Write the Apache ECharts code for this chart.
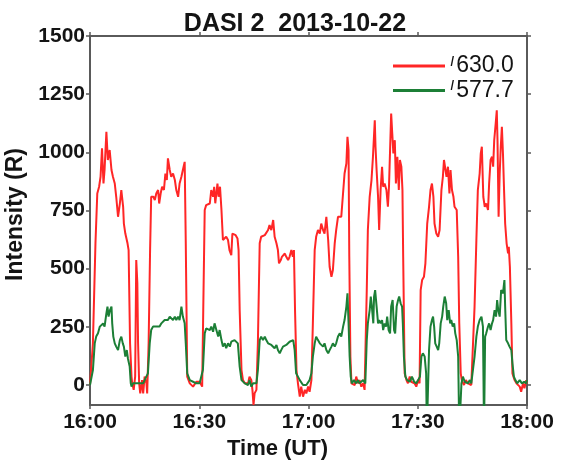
<!DOCTYPE html>
<html>
<head>
<meta charset="utf-8">
<title>DASI 2 2013-10-22</title>
<script src="https://cdn.jsdelivr.net/npm/echarts@6/dist/echarts.min.js"></script>
<style>
  html, body { margin: 0; padding: 0; background: #ffffff; }
  #chart { width: 565px; height: 461px; }
</style>
</head>
<body>
<div id="chart"></div>
<script>
// Axis tick labels
const timeLabels = ['16:00', '16:30', '17:00', '17:30', '18:00'];
const intensityTicks = [0, 250, 500, 750, 1000, 1250, 1500];

// Emission line names (shown as subscripts of I in the legend)
const lineNames = ['630.0', '577.7'];

// I(630.0) in Rayleigh, [minutes after 16:00 UT, intensity]
const red630Early = [
  [0,0],[0.4,7],[0.8,179],[1.5,609],[2.0,823],[2.5,852],[2.9,895],[3.3,1017],[3.7,866],[4.0,924],
  [4.5,1088],[4.9,967],[5.4,1010],[5.9,924],[6.3,895],[6.8,866],[7.2,809],[7.7,723],[8.2,780],[8.6,838],
  [9.1,766],[9.3,694],[9.7,651],[10.3,609],[10.6,580],[11.0,179],[11.4,36],[11.6,7],[12.0,-21],[12.4,36],
  [12.7,537],[13.0,437],[13.2,179],[13.5,7],[13.8,-36],[14.3,21],[14.6,-36],[15.0,36],[15.5,7],[15.7,-36],
  [16.1,179],[16.5,580],[16.8,809],[17.4,809],[17.8,795],[18.2,823],[18.7,838],[19.0,780],[19.4,823],[19.8,852],
  [20.3,838],[20.7,909],[21.1,881],[21.4,974],[21.9,924],[22.3,895],[22.8,909],[23.3,881],[23.7,838],[24.2,809],
  [24.6,866],[25.1,895],[25.5,924],[26.0,959],[26.3,609],[26.7,36],[27.4,7],[28.3,-7],[29.2,14],
  [30.1,14],[30.8,-7],[31.1,322],[31.5,752],[31.9,773],[32.4,766],[32.9,780],[33.3,838],[33.8,809],[34.1,852],
  [34.4,781],[35.0,866],[35.3,809],[35.7,852],[36.1,752],[36.5,623],[37.0,616],[37.4,637],[37.9,623],[38.3,580],
  [38.8,558],[39.1,651],[39.5,659],[40.0,644],[40.5,630],[40.8,580],[41.1,322],[41.6,64],[42.0,21],[42.5,7],
  [42.9,14],[43.4,7],[43.8,36],[44.3,21],[44.6,-21],[44.9,-86],[45.2,-36],[45.7,-21],[46.1,179],[46.6,609],
  [47.0,637],[47.5,630],[48.0,644],[48.4,637],[48.9,666],[49.3,687],[49.8,666],[50.3,709],[50.7,637],[51.2,609],
  [51.6,580],[51.9,523],[52.4,537],[52.7,551],[53.1,544],[53.5,565],[53.9,551],[54.4,537],[54.8,551],[55.3,580],
  [55.7,551],[56.0,580],[56.3,322],[56.7,64],[57.1,7],[57.6,-50],[58.0,-7],[58.5,-50],[59.0,-21],[59.4,-36],[59.9,-7]
];
const red630Late = [
  [60.3,-29],[60.8,21],[61.2,265],[61.7,580],[62.1,637],[62.6,666],[63.1,651],[63.5,694],[64.0,666],[64.4,651],
  [64.9,723],[65.4,623],[65.8,508],[66.3,465],[66.7,494],[67.2,609],[67.6,666],[68.1,723],[68.6,716],[69.0,723],
  [69.5,730],[69.9,909],[70.4,952],[70.7,1067],[71.0,1010],[71.2,551],[71.5,122],[71.8,7],[72.2,14],[72.7,0],
  [73.1,36],[73.6,7],[74.0,21],[74.5,-7],[75.0,7],[75.4,-21],[75.7,-29],[76.0,408],[76.3,666],[76.8,809],
  [77.3,881],[77.7,981],[78.2,1138],[78.4,1024],[78.7,924],[79.1,809],[79.4,666],[79.8,838],[80.2,938],[80.5,852],
  [80.9,866],[81.4,838],[81.8,766],[82.1,852],[82.4,1010],[82.7,1167],[83.0,1081],[83.3,995],[83.7,1052],[84.0,866],
  [84.4,981],[84.8,838],[85.1,967],[85.5,938],[85.8,838],[86.0,551],[86.4,50],[86.9,21],[87.3,7],[87.8,36],
  [88.2,14],[88.7,21],[89.1,7],[89.6,-7],
  [90.1,21],[90.5,7],[90.8,408],[91.2,451],[91.7,465],[92.1,523],[92.6,694],[93.1,766],[93.5,838],[93.9,866],
  [94.3,809],[94.6,694],[95.1,651],[95.6,637],[96.0,666],[96.5,838],[96.9,895],[97.2,967],[97.6,974],[97.9,895],
  [98.3,938],[98.7,823],[99.0,924],[99.4,838],[99.8,809],[100.1,766],[100.7,752],[101.1,551],[101.4,265],[101.8,50],
  [102.1,21],[102.7,0],[103.2,21],[103.8,7],[104.3,14],[104.7,0],[105.2,7],[105.6,337],[106.1,623],[106.5,838],
  [107.0,909],[107.3,995],[107.6,1024],[108.0,809],[108.4,766],[108.8,780],[109.3,752],[109.6,866],[110.0,967],[110.4,981],
  [110.7,938],[111.0,1052],[111.4,1124],[111.7,1181],[111.9,1052],[112.2,723],[112.5,909],[112.8,1024],[113.1,1110],[113.4,995],
  [113.7,838],[114.0,694],[114.4,609],[114.8,566],[115.0,594],[115.3,508],[115.7,265],[116.0,50],[116.6,21],[117.1,7],
  [117.5,7],[118.0,-7],[118.4,-29],[118.9,7],[119.3,-14],[119.8,21],[120.0,7]
];

// I(577.7) in Rayleigh, [minutes after 16:00 UT, intensity]
const green577Early = [
  [0,0],[0.4,7],[0.8,64],[1.3,179],[1.7,208],[2.2,222],[2.7,251],[3.1,243],[3.6,265],[4.0,251],
  [4.5,308],[4.8,337],[5.1,294],[5.5,322],[5.9,337],[6.1,265],[6.4,208],[6.8,179],[7.2,165],[7.7,150],
  [8.2,193],[8.6,208],[9.0,179],[9.3,165],[9.7,122],[10.1,150],[10.4,115],[10.9,79],[11.2,7],[11.4,-7],
  [11.8,7],[12.3,14],[12.7,7],[13.2,14],[13.6,7],[14.1,14],[14.6,7],[15.0,21],[15.5,14],[15.9,50],
  [16.4,179],[16.8,236],[17.3,251],[17.8,243],[18.2,251],[18.7,258],[19.1,251],[19.6,265],[20.0,265],[20.5,279],
  [21.0,286],[21.4,279],[21.9,294],[22.3,286],[22.8,279],[23.3,294],[23.7,279],[24.2,294],[24.6,279],[25.1,337],
  [25.5,294],[26.0,265],[26.3,179],[26.7,50],[27.4,21],[28.3,14],[29.2,7],
  [30.1,7],[30.6,0],[31.0,64],[31.5,222],[31.9,243],[32.4,251],[32.9,236],[33.3,251],[33.8,229],[34.2,265],
  [34.7,236],[35.2,208],[35.6,236],[36.1,193],[36.5,165],[37.0,179],[37.4,158],[37.9,179],[38.4,165],[38.8,186],
  [39.3,179],[39.7,193],[40.2,186],[40.6,179],[41.1,79],[41.6,21],[42.0,14],[42.5,7],[42.9,14],[43.4,0],
  [43.8,21],[44.3,-7],[44.8,7],[45.2,14],[45.7,7],[46.1,64],[46.6,193],[47.0,208],[47.5,193],[48.0,208],
  [48.4,193],[48.9,179],[49.3,186],[49.8,172],[50.3,179],[50.7,158],[51.2,172],[51.6,150],[52.1,136],[52.5,150],
  [53.0,165],[53.5,158],[53.9,172],[54.4,179],[54.8,186],[55.3,193],[55.8,193],[56.2,150],[56.6,50],[57.1,36],
  [57.6,21],[58.0,14],[58.5,0],[59.0,7],[59.4,0],[59.9,7]
];
const green577Late = [
  [60.3,21],[60.8,50],[61.2,122],[61.7,179],[62.1,208],[62.6,193],[63.1,179],[63.5,186],[64.0,165],[64.4,179],
  [64.9,150],[65.4,136],[65.8,150],[66.3,165],[66.7,179],[67.2,165],[67.6,179],[68.1,208],[68.6,222],[69.0,208],
  [69.5,251],[69.9,279],[70.4,337],[70.7,394],[71.0,265],[71.3,122],[71.6,36],[71.9,7],[72.5,21],[73.1,7],
  [73.6,21],[74.0,7],[74.5,14],[75.0,21],[75.6,7],[76.0,193],[76.3,265],[76.8,322],[77.1,380],[77.4,337],
  [77.8,265],[78.0,380],[78.3,408],[78.7,337],[79.1,265],[79.4,279],[79.8,265],[80.2,279],[80.5,236],[80.9,265],
  [81.3,251],[81.6,294],[82.0,236],[82.4,222],[82.7,337],[83.1,365],[83.5,236],[83.8,222],[84.2,337],[84.6,365],
  [84.9,380],[85.3,351],[85.7,337],[85.9,265],[86.2,122],[86.6,36],[87.1,21],[87.8,14],[88.4,36],[89.0,14],[89.6,7],
  [90.1,21],[90.6,36],[91.0,122],[91.4,136],[91.9,122],[92.3,50],[92.5,-200],[92.8,-200],[93.1,150],[93.5,251],
  [93.9,279],[94.2,294],[94.5,251],[94.8,179],[95.2,165],[95.6,150],[95.9,179],[96.3,265],[96.7,294],[97.0,337],
  [97.4,380],[97.8,351],[98.1,279],[98.5,322],[98.9,265],[99.2,279],[99.6,251],[100.0,265],[100.3,222],[100.7,193],
  [101.1,122],[101.4,-200],[101.7,-200],[102.0,7],[102.4,36],[102.9,14],[103.3,21],[103.8,7],[104.3,21],[104.7,7],
  [105.2,14],[105.6,122],[106.1,208],[106.5,251],[107.0,279],[107.5,294],[107.9,251],[108.2,-200],[108.5,208],[108.8,222],
  [109.3,251],[109.6,265],[110.0,236],[110.4,265],[110.7,279],[111.1,322],[111.5,294],[111.8,365],[112.1,322],[112.5,294],
  [112.9,408],[113.4,394],[113.8,451],[114.0,337],[114.3,193],[114.8,179],[115.2,165],[115.7,150],[116.0,93],[116.4,36],
  [116.8,21],[117.3,7],[118.0,21],[118.6,7],[119.2,14],[119.8,7],[120.0,21]
];

const red630 = red630Early.concat(red630Late);
const green577 = green577Early.concat(green577Late);

const FONT = '"Liberation Sans", Arial, sans-serif';
const INK = '#141414';
const AXIS = '#5a5a5a';

const axisLine = { show: true, onZero: false, lineStyle: { color: AXIS, width: 2 } };
const axisTick = { show: true, inside: false, length: 4, lineStyle: { color: AXIS, width: 1.5 } };
const tickFont = { fontFamily: FONT, fontWeight: 'bold', fontSize: 21, color: INK };

const chart = echarts.init(document.getElementById('chart'), null, { renderer: 'canvas' });

chart.setOption({
  animation: false,
  backgroundColor: '#ffffff',
  title: {
    text: 'DASI 2  2013-10-22',
    left: 290,
    top: 7,
    textAlign: 'center',
    textStyle: { fontFamily: FONT, fontWeight: 'bold', fontSize: 25, color: INK }
  },
  legend: {
    orient: 'vertical',
    left: 388,
    top: 49,
    itemWidth: 52,
    itemHeight: 3,
    itemGap: 1,
    icon: 'rect',
    selectedMode: false,
    data: lineNames,
    formatter: function (name) { return '{i|I}{n|' + name + '}'; },
    textStyle: {
      rich: {
        i: { fontFamily: FONT, fontStyle: 'italic', fontSize: 15, color: INK, verticalAlign: 'top', padding: [0, 2, 0, 0] },
        n: { fontFamily: FONT, fontSize: 23, color: INK, lineHeight: 24 }
      }
    }
  },
  grid: { left: 90, right: 38, top: 36, bottom: 56, containLabel: false, outerBoundsMode: 'none' },
  xAxis: [
    {
      type: 'value', min: 0, max: 120, interval: 30, position: 'bottom',
      axisLine: axisLine, axisTick: axisTick, splitLine: { show: false },
      axisLabel: Object.assign({ margin: 7, formatter: function (v) { return timeLabels[Math.round(v / 30)]; } }, tickFont),
      name: 'Time (UT)', nameLocation: 'middle', nameGap: 33,
      nameTextStyle: { fontFamily: FONT, fontWeight: 'bold', fontSize: 22, color: INK, padding: [0, 62, 0, 0] }
    },
    {
      type: 'value', min: 0, max: 120, interval: 30, position: 'top',
      axisLine: axisLine, axisTick: axisTick, splitLine: { show: false },
      axisLabel: { show: false }
    }
  ],
  yAxis: [
    {
      type: 'value', min: -86, max: 1500, position: 'left',
      axisLine: axisLine,
      axisTick: Object.assign({ customValues: intensityTicks }, axisTick),
      splitLine: { show: false },
      axisLabel: Object.assign({ margin: 5, customValues: intensityTicks, formatter: function (v) { return String(v); } }, tickFont),
      name: 'Intensity (R)', nameLocation: 'middle', nameGap: 51, nameRotate: 90,
      nameTextStyle: { fontFamily: FONT, fontWeight: 'bold', fontSize: 23, color: INK, padding: [0, 0, 0, 12] }
    },
    {
      type: 'value', min: -86, max: 1500, position: 'right',
      axisLine: axisLine,
      axisTick: Object.assign({ customValues: intensityTicks }, axisTick),
      splitLine: { show: false },
      axisLabel: { show: false }
    }
  ],
  series: [
    {
      name: lineNames[0], type: 'line', data: red630, xAxisIndex: 0, yAxisIndex: 0,
      symbol: 'none', clip: true,
      lineStyle: { color: '#ff2626', width: 2 }, itemStyle: { color: '#ff2626' }
    },
    {
      name: lineNames[1], type: 'line', data: green577, xAxisIndex: 0, yAxisIndex: 0,
      symbol: 'none', clip: true,
      lineStyle: { color: '#1c7f36', width: 2 }, itemStyle: { color: '#1c7f36' }
    }
  ]
});
</script>
</body>
</html>
